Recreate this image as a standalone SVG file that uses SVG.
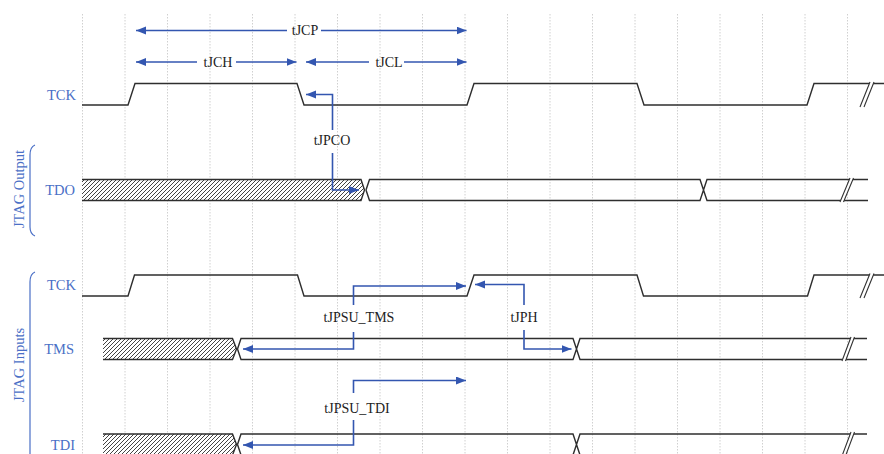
<svg xmlns="http://www.w3.org/2000/svg" width="884" height="454" viewBox="0 0 884 454">
<style>
.grid{stroke:#d0d0d0;stroke-width:1;stroke-dasharray:1.5,1.5;fill:none}
.wave{stroke:#2e2e2e;stroke-width:1.4;fill:none;stroke-linejoin:miter}
.hatch{fill:url(#hp);stroke:none}
.arr{stroke:#3356b0;stroke-width:1.6;fill:none;marker-end:url(#ah)}
.lab{font-family:"Liberation Serif",serif;font-size:14.5px;fill:#4a6fc6}
.tm{font-family:"Liberation Serif",serif;font-size:14px;fill:#222;text-anchor:middle}
.brk{fill:#fff;stroke:none}
.brkl{stroke:#333;stroke-width:1.1;fill:none}
.brace{stroke:#4a6fc6;stroke-width:1.2;fill:none}
</style>
<defs>
<pattern id="hp" patternUnits="userSpaceOnUse" width="4" height="4">
<rect width="4" height="4" fill="#fff"/>
<path d="M-1,1 L1,-1 M0,4 L4,0 M3,5 L5,3" stroke="#444" stroke-width="1"/>
</pattern>
<marker id="ah" markerUnits="userSpaceOnUse" markerWidth="11" markerHeight="9" refX="10" refY="4" orient="auto">
<path d="M0,0 L10,4 L0,8 z" fill="#3356b0"/>
</marker>
</defs>
<rect width="884" height="454" fill="#fff"/>
<g id="grid">
<path class="grid" d="M82.5,14V454M125,14V454M167.5,14V454M210,14V454M252.5,14V454M295,14V454M337.5,14V454M380,14V454M422.5,14V454M465,14V454M507.5,14V454M550,14V454M592.5,14V454M635,14V454M677.5,14V454M720,14V454M762.5,14V454M805,14V454M847.5,14V454"/>
</g>
<g id="labels">
<text class="lab" x="76" y="100" text-anchor="end">TCK</text>
<text class="lab" x="75" y="195" text-anchor="end">TDO</text>
<text class="lab" x="76" y="290" text-anchor="end">TCK</text>
<text class="lab" x="74" y="354" text-anchor="end">TMS</text>
<text class="lab" x="75" y="450" text-anchor="end">TDI</text>
<text class="lab" transform="translate(23.5,189) rotate(-90)" text-anchor="middle">JTAG Output</text>
<text class="lab" transform="translate(23.5,365) rotate(-90)" text-anchor="middle">JTAG Inputs</text>
<path class="brace" d="M35,145 Q30,147 30,155 V227 Q30,234 35,236"/>
<path class="brace" d="M35,272 Q30,274 30,282 V460"/>
</g>
<g id="tck1">
<path class="wave" d="M82,105 H128 L135,83.5 H297 L304,105 H467 L474,83.5 H637 L644,105 H807 L814,83.5 H884"/>
<path class="brk" d="M860,107 L870,82 L874,82 L864,107 z"/>
<path class="brkl" d="M860,107 L870,82 M864,107 L874,82"/>
</g>
<g id="tdo">
<path class="hatch" d="M82,179.5 H361 L364.5,190 L361,200.5 H82 z"/>
<path class="wave" d="M82,179.5 H361 L364.5,190 L361,200.5 H82"/>
<path class="wave" d="M366,190 L369.5,179.5 H700 L707,200.5 H868 M366,190 L369.5,200.5 H700 L707,179.5 H868"/>
<path class="brk" d="M840,202 L850,178 L853.5,178 L843.5,202 z"/>
<path class="brkl" d="M840,202 L850,178 M843.5,202 L853.5,178"/>
</g>
<g id="tck2">
<path class="wave" d="M82,296 H128 L134.5,275 H297.5 L304,296 H467 L474,275 H637 L643.5,296 H807.5 L814,275 H884"/>
<path class="brk" d="M860,298 L870,273.5 L874,273.5 L864,298 z"/>
<path class="brkl" d="M860,298 L870,273.5 M864,298 L874,273.5"/>
</g>
<g id="tms">
<path class="hatch" d="M103,338.5 H232.5 L236.5,349 L232.5,359.5 H103 z"/>
<path class="wave" d="M103,338.5 H232.5 L236.5,349 L232.5,359.5 H103"/>
<path class="wave" d="M237.5,349 L241,338.5 H573 L580,359.5 H867 M237.5,349 L241,359.5 H573 L580,338.5 H867"/>
<path class="brk" d="M842,361 L851,337 L854.5,337 L845.5,361 z"/>
<path class="brkl" d="M842,361 L851,337 M845.5,361 L854.5,337"/>
</g>
<g id="tdi">
<path class="hatch" d="M103,434 H232.5 L236.5,444.5 L232.5,455 H103 z"/>
<path class="wave" d="M103,434 H232.5 L236.5,444.5 L232.5,455 H103"/>
<path class="wave" d="M237.5,444.5 L241,434 H573 L580,455 H867 M237.5,444.5 L241,455 H573 L580,434 H867"/>
<path class="brk" d="M842,456 L851,432 L854.5,432 L845.5,456 z"/>
<path class="brkl" d="M842,456 L851,432 M845.5,456 L854.5,432"/>
</g>
<g id="connectors">
<path class="arr" d="M287,30.5 H136"/>
<path class="arr" d="M321,30.5 H466.5"/>
<path class="arr" d="M197,62 H136"/>
<path class="arr" d="M236,62 H296.5"/>
<path class="arr" d="M369,62 H306"/>
<path class="arr" d="M404,62 H466.5"/>
<path class="arr" d="M332.5,130 V94.5 H306"/>
<path class="arr" d="M332.5,153 V190 H359"/>
<path class="arr" d="M353.5,305 V286 H466"/>
<path class="arr" d="M353.5,332 V349 H243"/>
<path class="arr" d="M524,305 V284.5 H475"/>
<path class="arr" d="M524,330 V349 H571.5"/>
<path class="arr" d="M353.5,393 V380.5 H466"/>
<path class="arr" d="M353.5,420 V445 H243"/>
</g>
<g id="timing-labels">
<text class="tm" x="305" y="35">tJCP</text>
<text class="tm" x="218" y="67">tJCH</text>
<text class="tm" x="389" y="67">tJCL</text>
<text class="tm" x="332" y="145">tJPCO</text>
<text class="tm" x="359" y="322">tJPSU_TMS</text>
<text class="tm" x="524" y="322">tJPH</text>
<text class="tm" x="357" y="413">tJPSU_TDI</text>
</g>
</svg>
